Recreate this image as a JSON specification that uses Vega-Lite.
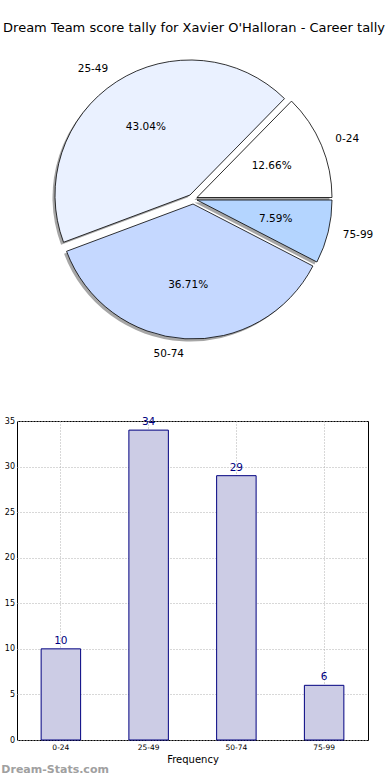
{
  "$schema": "https://vega.github.io/schema/vega-lite/v6.json",
  "padding": {"top": 22, "left": 0, "right": 0, "bottom": 0},
  "bounds": "flush",
  "spacing": 62,
  "title": {"text": "Dream Team score tally for Xavier O'Halloran - Career tally", "fontSize": 13, "fontWeight": "normal", "font": "DejaVu Sans", "color": "#000000", "offset": 4, "anchor": "middle", "dx": 7},
  "config": {"font": "DejaVu Sans", "view": {"stroke": null}},
  "data": {"values": [
    {"cat": "0-24", "value": 10, "pct": "12.66%"},
    {"cat": "25-49", "value": 34, "pct": "43.04%"},
    {"cat": "50-74", "value": 29, "pct": "36.71%"},
    {"cat": "75-99", "value": 6, "pct": "7.59%"}
  ]},
  "vconcat": [
    {
      "width": 352,
      "height": 320,
      "encoding": {
        "theta": {"field": "value", "type": "quantitative", "stack": true, "scale": {"domain": [0, 79], "range": [1.5707963, 7.8539816]}},
        "order": {"field": "cat", "type": "ordinal", "sort": "descending"}
      },
      "layer": [
        {"mark": {"type": "arc", "outerRadius": 135, "xOffset": 1.5, "yOffset": 1, "fill": "#4d4d4d"},
         "encoding": {"opacity": {"condition": {"test": "datum.cat === '0-24'", "value": 0.5}, "value": 0}}},
        {"mark": {"type": "arc", "outerRadius": 135, "xOffset": -5.5, "yOffset": -1.5, "fill": "#4d4d4d"},
         "encoding": {"opacity": {"condition": {"test": "datum.cat === '25-49'", "value": 0.5}, "value": 0}}},
        {"mark": {"type": "arc", "outerRadius": 135, "xOffset": -2.5, "yOffset": 7.5, "fill": "#4d4d4d"},
         "encoding": {"opacity": {"condition": {"test": "datum.cat === '50-74'", "value": 0.5}, "value": 0}}},
        {"mark": {"type": "arc", "outerRadius": 135, "xOffset": 1.5, "yOffset": 3.5, "fill": "#4d4d4d"},
         "encoding": {"opacity": {"condition": {"test": "datum.cat === '75-99'", "value": 0.5}, "value": 0}}},
        {
          "encoding": {"opacity": {"condition": {"test": "datum.cat === '0-24'", "value": 1}, "value": 0}},
          "layer": [
            {"mark": {"type": "arc", "outerRadius": 135, "xOffset": 4, "yOffset": -1.5, "stroke": "#000000", "strokeWidth": 0.8},
             "encoding": {"color": {"field": "cat", "type": "nominal", "scale": {"domain": ["0-24", "25-49", "50-74", "75-99"], "range": ["#ffffff", "#eaf1ff", "#c5d8ff", "#b4d5ff"]}, "legend": null}}},
            {"mark": {"type": "text", "radius": 81, "xOffset": 4, "yOffset": -1.5, "fontSize": 10.5, "color": "#000000"},
             "encoding": {"text": {"field": "pct", "type": "nominal"}}},
            {"mark": {"type": "text", "radius": 150, "xOffset": 4, "yOffset": -1.5, "fontSize": 10.5, "align": "left", "color": "#000000"},
             "encoding": {"text": {"field": "cat", "type": "nominal"}}}
          ]
        },
        {
          "encoding": {"opacity": {"condition": {"test": "datum.cat === '25-49'", "value": 1}, "value": 0}},
          "layer": [
            {"mark": {"type": "arc", "outerRadius": 135, "xOffset": -3, "yOffset": -4, "stroke": "#000000", "strokeWidth": 0.8},
             "encoding": {"color": {"field": "cat", "type": "nominal", "legend": null}}},
            {"mark": {"type": "text", "radius": 81, "xOffset": -3, "yOffset": -4, "fontSize": 10.5, "color": "#000000"},
             "encoding": {"text": {"field": "pct", "type": "nominal"}}},
            {"mark": {"type": "text", "radius": 150, "xOffset": -3, "yOffset": -4, "fontSize": 10.5, "align": "right", "color": "#000000"},
             "encoding": {"text": {"field": "cat", "type": "nominal"}}}
          ]
        },
        {
          "encoding": {"opacity": {"condition": {"test": "datum.cat === '50-74'", "value": 1}, "value": 0}},
          "layer": [
            {"mark": {"type": "arc", "outerRadius": 135, "xOffset": 0, "yOffset": 5, "stroke": "#000000", "strokeWidth": 0.8},
             "encoding": {"color": {"field": "cat", "type": "nominal", "legend": null}}},
            {"mark": {"type": "text", "radius": 81, "xOffset": 0, "yOffset": 5, "fontSize": 10.5, "color": "#000000"},
             "encoding": {"text": {"field": "pct", "type": "nominal"}}},
            {"mark": {"type": "text", "radius": 150, "xOffset": 0, "yOffset": 5, "fontSize": 10.5, "align": "right", "color": "#000000"},
             "encoding": {"text": {"field": "cat", "type": "nominal"}}}
          ]
        },
        {
          "encoding": {"opacity": {"condition": {"test": "datum.cat === '75-99'", "value": 1}, "value": 0}},
          "layer": [
            {"mark": {"type": "arc", "outerRadius": 135, "xOffset": 4, "yOffset": 1, "stroke": "#000000", "strokeWidth": 0.8},
             "encoding": {"color": {"field": "cat", "type": "nominal", "legend": null}}},
            {"mark": {"type": "text", "radius": 81, "xOffset": 4, "yOffset": 1, "fontSize": 10.5, "color": "#000000"},
             "encoding": {"text": {"field": "pct", "type": "nominal"}}},
            {"mark": {"type": "text", "radius": 150, "xOffset": 4, "yOffset": 1, "fontSize": 10.5, "align": "left", "color": "#000000"},
             "encoding": {"text": {"field": "cat", "type": "nominal"}}}
          ]
        }
      ]
    },
    {
      "width": 351,
      "height": 319,
      "view": {"stroke": "#000000", "strokeWidth": 1},
      "title": {"text": "Dream-Stats.com", "orient": "bottom", "anchor": "start", "fontSize": 11, "fontWeight": "bold", "color": "#a0a0a0", "offset": -1, "dx": -3},
      "encoding": {
        "x": {"field": "cat", "type": "nominal", "sort": ["0-24", "25-49", "50-74", "75-99"],
              "scale": {"paddingInner": 0.55, "paddingOuter": 0.275},
              "axis": {"title": "Frequency", "labelAngle": 0, "labelFontSize": 7.5, "titleFontSize": 10, "titleFontWeight": "normal", "labelPadding": 3, "titlePadding": 4, "ticks": false, "domain": false, "grid": true, "gridDash": [1, 2], "gridColor": "#b0b0b0", "bandPosition": 0.5, "labelColor": "#000000", "titleColor": "#000000"}},
        "y": {"field": "value", "type": "quantitative", "scale": {"domain": [0, 35]},
              "axis": {"title": null, "values": [0, 5, 10, 15, 20, 25, 30, 35], "labelFontSize": 8, "labelPadding": 2.5, "ticks": false, "domain": false, "grid": true, "gridDash": [1, 2], "gridColor": "#b0b0b0", "labelColor": "#000000"}}
      },
      "layer": [
        {"mark": {"type": "bar", "fill": "#cccce5", "stroke": "#000080", "strokeWidth": 1}},
        {"mark": {"type": "text", "baseline": "bottom", "dy": -3, "fontSize": 10.5, "color": "#000080"},
         "encoding": {"text": {"field": "value", "type": "quantitative"}}}
      ]
    }
  ]
}
